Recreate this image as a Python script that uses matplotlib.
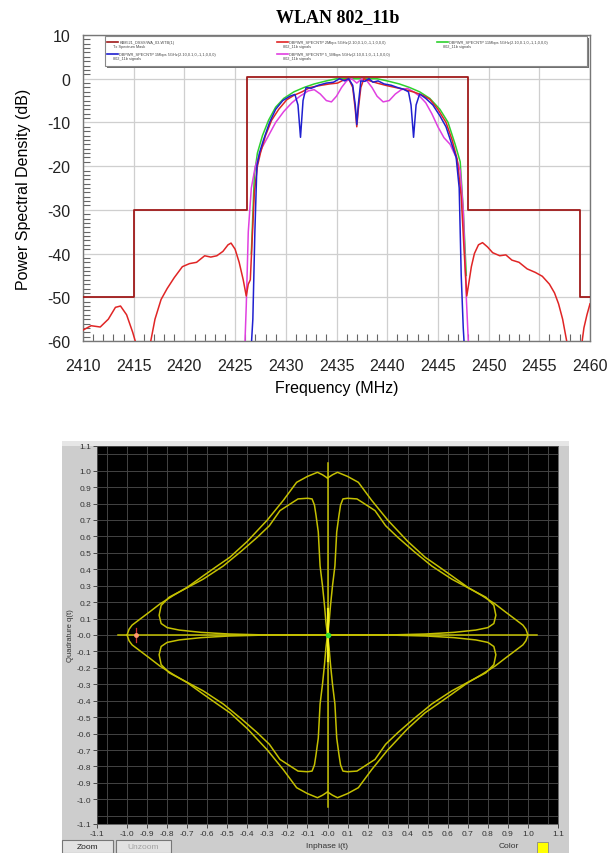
import numpy as np
import matplotlib
matplotlib.use('Agg')
import matplotlib.pyplot as plt
from matplotlib.patches import Rectangle
from matplotlib.ticker import MultipleLocator, FixedLocator

# ---- spectrum data ----
mask_f = [2410, 2415, 2426.2, 2448, 2459, 2460]
mask_db = [-50, -30, 0.3, -30, -50, -50]

red_f = [2410, 2410.8, 2411.7, 2412.5, 2413.2, 2413.7, 2414.3, 2414.9, 2415.4, 2416.0,
         2416.6, 2417.1, 2417.7, 2418.3, 2419.0, 2419.8, 2420.5, 2421.2, 2422.0, 2422.6,
         2423.2, 2423.8, 2424.3, 2424.6, 2425.0, 2425.4, 2425.8, 2426.1, 2426.3, 2426.5,
         2426.7, 2426.9, 2427.2, 2427.5, 2428.0, 2428.6, 2429.3, 2430.1, 2430.8, 2431.6,
         2432.4, 2433.5, 2434.3, 2435.1, 2435.7, 2436.2, 2436.6, 2436.85, 2437.0, 2437.15,
         2437.4, 2437.7, 2438.3, 2439.0, 2440.0, 2440.8, 2441.6, 2442.7, 2443.5, 2444.2,
         2445.0, 2445.8, 2446.4, 2446.9, 2447.3, 2447.6, 2447.85, 2448.1, 2448.3, 2448.6,
         2449.0, 2449.4, 2449.9, 2450.4, 2451.1, 2451.7, 2452.3, 2453.0, 2453.8, 2454.6,
         2455.3, 2456.0, 2456.5, 2456.9, 2457.3, 2457.7, 2458.0, 2459.0, 2459.4, 2459.7, 2460]
red_db = [-57.5, -56.5, -56.8, -55, -52.3, -52, -54, -58, -62, -66,
          -61, -55, -50.5, -48, -45.5, -43, -42.3, -42, -40.5, -40.8,
          -40.5, -39.5, -38, -37.6, -39, -42, -46, -49.7, -47, -46,
          -36, -26, -20, -17, -13, -9.5, -7, -4.8, -3.8, -3.0,
          -2.0, -1.5, -1.2, -1.0, -0.3, 0, -2, -7, -11, -7,
          -2, 0, -0.5, -1, -1.6, -2, -2.4, -3.1, -3.8, -4.7,
          -7, -10, -14, -18.4, -27, -40, -49.7, -46, -43, -40,
          -38, -37.5, -38.5, -39.8, -40.5, -40.3, -41.5, -42, -43.5, -44.3,
          -45.2, -47, -49, -51.5, -55, -60, -64, -64, -57, -54, -51.5]

blue_f = [2426.5, 2426.75, 2426.95, 2427.15, 2427.4, 2427.8, 2428.4, 2429.0, 2429.7, 2430.4,
          2430.9, 2431.2, 2431.45, 2431.7, 2432.0, 2432.5, 2433.2, 2434.0, 2434.7, 2435.3,
          2435.8, 2436.2, 2436.6, 2436.85, 2437.0, 2437.15, 2437.4, 2437.8, 2438.2, 2438.6,
          2439.1, 2439.7, 2440.4, 2441.0, 2441.6, 2442.1, 2442.35, 2442.6, 2442.85, 2443.2,
          2443.8, 2444.5, 2445.2, 2445.8, 2446.3, 2446.8, 2447.1, 2447.3, 2447.5, 2447.7]
blue_db = [-65, -55, -35, -20, -17, -14, -10, -7, -5, -4,
           -3.6, -6, -13.4, -5, -2, -2.2, -1.5, -1, -0.8, 0,
           -0.5, 0, -1.5, -6, -10.5, -6, -0.5, -0.6, 0, -0.8,
           -0.5, -1.2, -1.5, -2, -2.4, -3, -6, -13.4, -6, -3.5,
           -4.5, -6, -8.5, -11, -14.5, -18, -25, -45, -57, -65]

green_f = [2426.6, 2426.9, 2427.2, 2427.7, 2428.3, 2429.0, 2429.8, 2430.8, 2431.8, 2432.8,
           2434.0, 2435.0, 2436.0, 2437.0, 2438.0, 2439.0, 2440.0, 2441.2, 2442.2, 2443.2,
           2444.2, 2445.2, 2446.0, 2446.7, 2447.2, 2447.5, 2447.8]
green_db = [-40, -22, -17, -13, -9.5, -6.5, -4.5, -3, -2, -1.2,
            -0.5, 0, 0, 0, 0, 0, -0.5, -1.2, -2, -3,
            -4.5, -7, -10, -15, -19, -30, -45]

mag_f = [2425.9, 2426.1, 2426.3, 2426.6, 2427.0, 2427.6, 2428.3, 2429.0, 2429.8, 2430.6,
         2431.4, 2432.2, 2432.8, 2433.4, 2434.0, 2434.5, 2435.0, 2435.5, 2436.0, 2436.5,
         2437.0, 2437.5, 2438.0, 2438.5, 2439.0, 2439.6, 2440.2, 2440.8, 2441.4, 2442.0,
         2442.6, 2443.2, 2443.8, 2444.4, 2445.0, 2445.6, 2446.2, 2446.8, 2447.2, 2447.5,
         2447.8, 2448.1]
mag_db = [-65, -52, -35, -25, -20, -16, -13, -10, -7.5, -5.5,
          -4, -2.8, -2.5, -3.5, -5, -5.3, -4, -2, -0.5, 0,
          -1, 0, -0.5, -2, -4, -5.3, -5, -3.5, -2.5, -2.2,
          -3, -4, -5.5, -8, -11, -13.5, -15, -18, -21, -30,
          -50, -65]

legend_rows = [
    ('#a01a1a', 'KB8521_DSSS/WA_03-WTB(1)', 'Tx Spectrum Mask'),
    ('#e02525', 'DBPWR_SPECNTP 2Mbps 5GHz(2.10,0.1,0,-1,1,0,0,0)', '802_11b signals'),
    ('#2ed12e', 'DBPWR_SPECNTP 11Mbps 5GHz(2.10,0.1,0,-1,1,0,0,0)', '802_11b signals'),
    ('#2020d0', 'DBPWR_SPECNTP 1Mbps 5GHz(2.10,0.1,0,-1,1,0,0,0)', '802_11b signals'),
    ('#e040e0', 'DBPWR_SPECNTP 5_5Mbps 5GHz(2.10,0.1,0,-1,1,0,0,0)', '802_11b signals'),
]

# ---- I/Q trace, first quadrant (mirrored into the others) ----
outer_i = [1.0, 0.99, 0.975, 0.935, 0.886, 0.836, 0.77, 0.70, 0.62, 0.55,
           0.487, 0.40, 0.30, 0.22, 0.154, 0.10, 0.05, 0.025, 0.0]
outer_q = [0.0, 0.035, 0.06, 0.097, 0.142, 0.189, 0.24, 0.29, 0.36, 0.42,
           0.473, 0.57, 0.70, 0.82, 0.929, 0.965, 0.99, 0.975, 0.955]
inner_i = [0.0, 0.30, 0.49, 0.63, 0.74, 0.80, 0.83, 0.84, 0.83, 0.79,
           0.72, 0.62, 0.52, 0.43, 0.35, 0.29, 0.237, 0.17, 0.147, 0.10,
           0.077, 0.065, 0.057, 0.046, 0.037, 0.025, 0.015, 0.008, 0.0]
inner_q = [0.0, 0.0, 0.006, 0.016, 0.03, 0.045, 0.07, 0.12, 0.18, 0.23,
           0.275, 0.34, 0.42, 0.51, 0.595, 0.665, 0.757, 0.81, 0.828, 0.832,
           0.828, 0.79, 0.726, 0.627, 0.42, 0.30, 0.18, 0.08, 0.0]

iq_ticks = [-1.15, -1.0, -0.9, -0.8, -0.7, -0.6, -0.5, -0.4, -0.3, -0.2, -0.1, 0.0,
            0.1, 0.2, 0.3, 0.4, 0.5, 0.6, 0.7, 0.8, 0.9, 1.0, 1.15]
i_labels = ['-1.1', '-1.0', '-0.9', '-0.8', '-0.7', '-0.6', '-0.5', '-0.4', '-0.3', '-0.2',
            '-0.1', '-0.0', '0.1', '0.2', '0.3', '0.4', '0.5', '0.6', '0.7', '0.8', '0.9',
            '1.0', '1.1']
q_labels = ['-1.1', '-1.0', '-0.9', '-0.8', '-0.7', '-0.6', '-0.5', '-0.4', '-0.3', '-0.2',
            '-0.1', '-0.0', '0.1', '0.2', '0.3', '0.4', '0.5', '0.6', '0.7', '0.8', '0.9',
            '1.0', '1.1']

plt.rcParams['font.family'] = ['Liberation Sans', 'DejaVu Sans']
plt.rcParams['axes.unicode_minus'] = False

W, H = 608, 854
fig = plt.figure(figsize=(W / 100, H / 100), dpi=100)


def fx(px):
    return px / W


def fy(py):
    return 1 - py / H


# ================= top: power spectral density =================
ax1 = fig.add_axes([fx(83), fy(342), (590 - 83) / W, (342 - 36) / H])
ax1.plot(green_f, green_db, color='#2ed12e', lw=1.1, zorder=3)
ax1.plot(mag_f, mag_db, color='#e040e0', lw=1.1, zorder=4)
ax1.plot(red_f, red_db, color='#e02525', lw=1.1, zorder=5)
ax1.plot(blue_f, blue_db, color='#2020d0', lw=1.1, zorder=6)
ax1.step(mask_f, mask_db, where='post', color='#a01a1a', lw=1.3, zorder=7)

ax1.set_xlim(2410, 2460)
ax1.set_ylim(-60, 10)
ax1.set_xticks(np.arange(2410, 2461, 5))
ax1.set_yticks(np.arange(-60, 11, 10))
ax1.xaxis.set_minor_locator(MultipleLocator(1))
ax1.yaxis.set_minor_locator(MultipleLocator(1))
ax1.tick_params(which='major', length=0, labelsize=11.5, colors='#222')
ax1.tick_params(axis='x', which='major', pad=12)
ax1.tick_params(axis='y', which='major', pad=9)
ax1.tick_params(which='minor', direction='in', length=5, color='#666', width=0.8,
                top=False, right=False)
ax1.grid(True, which='major', color='#cfcfcf', lw=0.9)
for s in ax1.spines.values():
    s.set_color('#777')
    s.set_linewidth(1.0)
ax1.set_xlabel('Frequency (MHz)', fontsize=11.5, labelpad=5)
ax1.set_ylabel('Power Spectral Density (dB)', fontsize=11.5, labelpad=12)
fig.text(fx(338), fy(18), 'WLAN 802_11b', ha='center', va='center', fontsize=13,
         fontweight='bold', family='Liberation Serif')

# legend box
lx0, lx1 = (105 - 83) / 507, (587 - 83) / 507
ly0, ly1 = (342 - 67) / 306, (342 - 37) / 306
ax1.add_patch(Rectangle((lx0 + 0.004, ly0 - 0.008), lx1 - lx0, ly1 - ly0,
                        transform=ax1.transAxes, facecolor='#707070', edgecolor='none',
                        zorder=9, clip_on=False))
ax1.add_patch(Rectangle((lx0, ly0), lx1 - lx0, ly1 - ly0, transform=ax1.transAxes,
                        facecolor='white', edgecolor='#888', lw=0.8, zorder=10,
                        clip_on=False))
cols = [(107 - 83) / 507, (277 - 83) / 507, (437 - 83) / 507]
rows = [(342 - 43) / 306, (342 - 55) / 306]
slots = [(0, 0), (1, 0), (2, 0), (0, 1), (1, 1)]
for (c, r), (col, name, sub) in zip(slots, legend_rows):
    x0, y0 = cols[c], rows[r]
    ax1.plot([x0, x0 + 0.022], [y0, y0], color=col, lw=1.2, transform=ax1.transAxes,
             zorder=11, clip_on=False)
    ax1.text(x0 + 0.024, y0, name, fontsize=2.8, color='#444', va='center',
             transform=ax1.transAxes, zorder=11)
    ax1.text(x0 + 0.012, y0 - 0.012, sub, fontsize=2.8, color='#444', va='center',
             transform=ax1.transAxes, zorder=11)

# ================= bottom: I/Q trace panel =================
fig.add_artist(Rectangle((fx(62), 0), (569 - 62) / W, (854 - 442) / H,
                         transform=fig.transFigure, facecolor='#cdcdcd',
                         edgecolor='none', zorder=0))
fig.add_artist(Rectangle((fx(62), fy(447)), (569 - 62) / W, 5 / H,
                         transform=fig.transFigure, facecolor='#e6e6e6',
                         edgecolor='none', zorder=0))

ax2 = fig.add_axes([fx(97), fy(825), (558 - 97) / W, (825 - 447) / H])
ax2.set_facecolor('black')
ax2.set_xlim(-1.15, 1.15)
ax2.set_ylim(-1.15, 1.15)
ax2.xaxis.set_major_locator(FixedLocator(iq_ticks))
ax2.yaxis.set_major_locator(FixedLocator(iq_ticks))
ax2.set_xticklabels(i_labels)
ax2.set_yticklabels(q_labels)
ax2.tick_params(labelsize=6, length=3, width=0.6, color='#333', labelcolor='#333', pad=1)
for g in np.arange(-11, 12):
    ax2.axvline(g / 10, color='#444', lw=0.7, zorder=1)
    ax2.axhline(g / 10, color='#444', lw=0.7, zorder=1)
for s in ax2.spines.values():
    s.set_color('#555')
    s.set_linewidth(0.6)

yel = '#c4c000'
ax2.plot([-1.045, 1.045], [0, 0], color=yel, lw=1.1, zorder=3)
ax2.plot([0, 0], [-1.045, 1.045], color=yel, lw=1.1, zorder=3)
for si in (1, -1):
    for sq in (1, -1):
        ax2.plot(np.multiply(outer_i, si), np.multiply(outer_q, sq), color=yel, lw=1.1,
                 zorder=4)
        ax2.plot(np.multiply(inner_i, si), np.multiply(inner_q, sq), color=yel, lw=1.1,
                 zorder=4)
ax2.plot([0, 0], [-0.16, 0.16], color='#f4f020', lw=1.6, zorder=5)
ax2.plot([0], [0], 'o', color='#30e030', ms=3, zorder=6)
ax2.plot([-0.955, -0.955], [-0.045, 0.045], color='#d03030', lw=0.9, zorder=6)
ax2.plot([-0.955], [0], 'o', color='#ff9a70', ms=2.5, zorder=7)

fig.text(fx(71), fy(636), 'Quadrature q(t)', rotation=90, ha='center', va='center',
         fontsize=5.5, color='#333')
fig.text(fx(327), fy(847), 'Inphase i(t)', ha='center', va='center', fontsize=6,
         color='#333')
fig.text(fx(509), fy(847), 'Color', ha='center', va='center', fontsize=6, color='#333')
fig.add_artist(Rectangle((fx(537), fy(854)), 11 / W, 11 / H, transform=fig.transFigure,
                         facecolor='#ffff00', edgecolor='#888', lw=0.6))

# buttons
for x0, x1, label, tc in [(62, 113, 'Zoom', '#222'), (116, 171, 'Unzoom', '#a0a0a0')]:
    fig.add_artist(Rectangle((fx(x0), 0), (x1 - x0) / W, (854 - 841) / H,
                             transform=fig.transFigure, facecolor='#e2e2e2',
                             edgecolor='#777', lw=0.8))
    fig.text(fx((x0 + x1) / 2), fy(848), label, ha='center', va='center', fontsize=6,
             color=tc)

fig.savefig('out.png', dpi=100)
